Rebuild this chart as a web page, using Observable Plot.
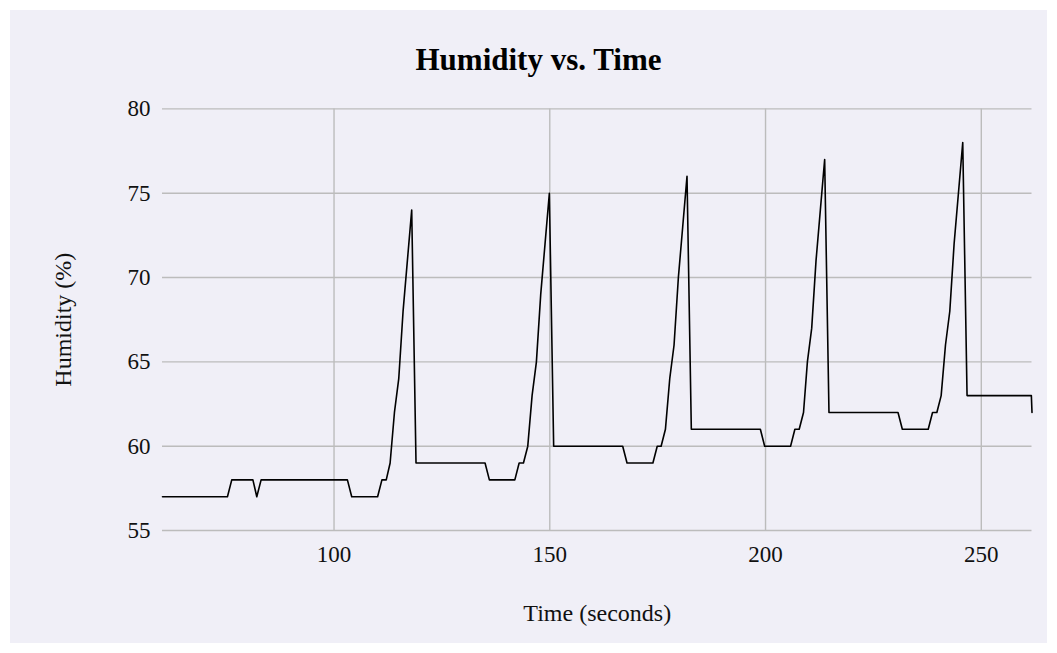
<!DOCTYPE html>
<html>
<head>
<meta charset="utf-8">
<script src="https://cdn.jsdelivr.net/npm/d3@7"></script>
<script src="https://cdn.jsdelivr.net/npm/@observablehq/plot@0.6"></script>
<style>
  html, body { margin: 0; padding: 0; background: #ffffff; }
  #frame { position: absolute; left: 10px; top: 10px; width: 1037px; height: 633px; background: #f0eff7; overflow: hidden; }
  #chart { position: absolute; left: 0; top: 0; }
  #title { position: absolute; left: 10px; top: 32px; width: 1037px; text-align: center; line-height: 34px;
           font: bold 31px "Liberation Serif", "Times New Roman", serif; color: #000; }
</style>
</head>
<body>
<div id="frame">
  <div id="chart"></div>
  <div id="title">Humidity vs. Time</div>
</div>
<script>
// Time (seconds) at each vertex of the humidity trace
const timeSeconds = [
  60.25, 75.3, 76.3, 81.2, 82.1, 83.1, 103.1, 104.1, 110.1, 111.1, 112.1,
  113.0, 114.0, 115.0, 116.0, 117.0, 118.0, 119.0,
  135.0, 136.0, 141.9, 142.9, 143.9,
  144.9, 145.9, 146.9, 147.9, 148.9, 149.9, 150.9,
  166.9, 167.9, 173.9, 174.9, 175.8,
  176.8, 177.8, 178.8, 179.8, 180.8, 181.8, 182.8,
  198.8, 199.8, 205.8, 206.8, 207.8,
  208.8, 209.7, 210.7, 211.7, 212.7, 213.7, 214.7,
  230.7, 231.7, 237.7, 238.7, 239.7,
  240.7, 241.7, 242.7, 243.7, 244.7, 245.7, 246.7,
  261.6, 261.75
];
// Humidity (%) at each vertex
const humidity = [
  57, 57, 58, 58, 57, 58, 58, 57, 57, 58, 58,
  59, 62, 64, 68, 71, 74, 59,
  59, 58, 58, 59, 59,
  60, 63, 65, 69, 72, 75, 60,
  60, 59, 59, 60, 60,
  61, 64, 66, 70, 73, 76, 61,
  61, 60, 60, 61, 61,
  62, 65, 67, 71, 74, 77, 62,
  62, 61, 61, 62, 62,
  63, 66, 68, 72, 75, 78, 63,
  63, 62
];
const xTicks = [100, 150, 200, 250];
const yTicks = [55, 60, 65, 70, 75, 80];
const titleX = "Time (seconds)";
const titleY = "Humidity (%)";

const data = timeSeconds.map((t, i) => ({ t, h: humidity[i] }));

const chart = Plot.plot({
  width: 1037,
  height: 633,
  marginLeft: 152,
  marginRight: 15.5,
  marginTop: 98.4,
  marginBottom: 113,
  style: {
    background: "transparent",
    fontFamily: "'Liberation Serif', 'Times New Roman', serif",
    fontSize: "23px",
    color: "#111"
  },
  x: { type: "linear" },
  y: { domain: [55, 80] },
  marks: [
    Plot.gridY({ ticks: yTicks, stroke: "#bcbcbc", strokeOpacity: 1, strokeWidth: 1.4 }),
    Plot.gridX({ ticks: xTicks, stroke: "#bcbcbc", strokeOpacity: 1, strokeWidth: 1.4 }),
    Plot.axisX({ ticks: xTicks, tickSize: 0, tickPadding: 15, label: null, fontSize: 23, fill: "#111" }),
    Plot.axisY({ ticks: yTicks, tickSize: 0, tickPadding: 12, label: null, fontSize: 23, fill: "#111" }),
    Plot.line(data, { x: "t", y: "h", stroke: "#000", strokeWidth: 1.6 }),
    Plot.text([titleX], { frameAnchor: "bottom", dy: 90, text: d => d, fontSize: 24, fill: "#111", textAnchor: "middle" }),
    Plot.text([titleY], { frameAnchor: "left", dx: -99, rotate: -90, text: d => d, fontSize: 24, fill: "#111", textAnchor: "middle" })
  ]
});
document.getElementById("chart").appendChild(chart);
</script>
</body>
</html>
